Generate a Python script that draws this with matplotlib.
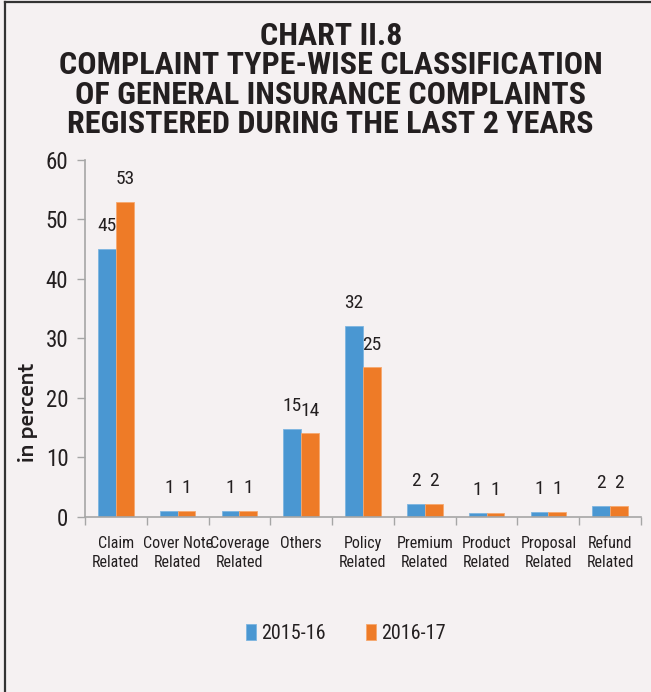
import matplotlib
matplotlib.use("Agg")
import matplotlib.pyplot as plt
import numpy as np
from matplotlib.lines import Line2D

# complaint share (%) by type, general insurance
categories = ["Claim\nRelated", "Cover Note\nRelated", "Coverage\nRelated", "Others",
              "Policy\nRelated", "Premium\nRelated", "Product\nRelated",
              "Proposal\nRelated", "Refund\nRelated"]
share_2015_16 = [45.0, 1.0, 1.0, 14.7, 32.1, 2.2, 0.7, 0.8, 1.8]
share_2016_17 = [53.0, 1.0, 1.0, 14.0, 25.1, 2.2, 0.7, 0.8, 1.8]
series_labels = ["2015-16", "2016-17"]
yticks = [0, 10, 20, 30, 40, 50, 60]

BG = "#f5f1f2"
BLUE = "#4a97d2"
ORANGE = "#ee7b27"
AXIS = "#a6a6a6"
TEXT = "#231f20"
NARROW = ["Roboto Condensed", "DejaVu Sans"]

fig = plt.figure(figsize=(6.51, 6.92), dpi=100, facecolor=BG)
ax = fig.add_axes([0.1306, 0.2533, 0.854, 0.5155])
ax.set_facecolor(BG)

x = np.arange(len(categories))
w = 0.288
b1 = ax.bar(x - w / 2, share_2015_16, w, color=BLUE, edgecolor="#7db5e0", linewidth=0.6,
            label=series_labels[0])
b2 = ax.bar(x + w / 2, share_2016_17, w, color=ORANGE, edgecolor="#f6a86f", linewidth=0.6,
            label=series_labels[1])

for bars in (b1, b2):
    for rect in bars:
        h = rect.get_height()
        ax.annotate(f"{h:.0f}", (rect.get_x() + rect.get_width() / 2, h),
                    xytext=(0, 10), textcoords="offset points",
                    ha="center", va="bottom", fontsize=14, family=NARROW, color=TEXT)

ax.set_xlim(-0.5, len(categories) - 0.5)
ax.set_ylim(0, 60)
ax.set_yticks(yticks)
ax.set_yticklabels([str(t) for t in yticks], family=NARROW, fontsize=16.5, color=TEXT)
ax.tick_params(axis="y", length=6, color=AXIS, width=1, pad=6)

ax.set_xticks(x)
ax.set_xticklabels(categories, family=NARROW, fontsize=11.5, color=TEXT, linespacing=1.3)
ax.tick_params(axis="x", which="major", length=0, pad=14)
ax.set_xticks(np.arange(-0.5, len(categories)), minor=True)
ax.tick_params(axis="x", which="minor", length=6, color=AXIS, width=1)

for side in ("top", "right"):
    ax.spines[side].set_visible(False)
for side in ("left", "bottom"):
    ax.spines[side].set_color(AXIS)
    ax.spines[side].set_linewidth(1.2)

fig.text(28 / 651, 1 - 412 / 692, "in percent", rotation=90, ha="center", va="center",
         fontsize=13.5, family=["Encode Sans Expanded", "DejaVu Sans"], fontweight=600,
         color=TEXT)

fig.text(0.508, 1 - 80 / 692,
         "CHART II.8\nCOMPLAINT TYPE-WISE CLASSIFICATION\n"
         "OF GENERAL INSURANCE COMPLAINTS\nREGISTERED DURING THE LAST 2 YEARS",
         ha="center", va="center", fontsize=23, fontweight="bold", family=NARROW,
         color=TEXT, linespacing=0.97)

leg = fig.legend(handles=[b1, b2], labels=series_labels, loc="center",
                 bbox_to_anchor=(0.531, 0.085), ncol=2, frameon=False,
                 prop={"family": NARROW, "size": 14.5}, handlelength=0.5,
                 handleheight=0.85, handletextpad=0.25, columnspacing=2.0)
for t in leg.get_texts():
    t.set_color(TEXT)

# page frame: left and top rule
fig.add_artist(Line2D([4.5 / 651, 4.5 / 651], [0, 1 - 2 / 692], color="#333333", lw=1.6))
fig.add_artist(Line2D([4.5 / 651, 1], [1 - 2 / 692, 1 - 2 / 692], color="#333333", lw=1.6))

fig.savefig("out.png", dpi=100, facecolor=BG)
